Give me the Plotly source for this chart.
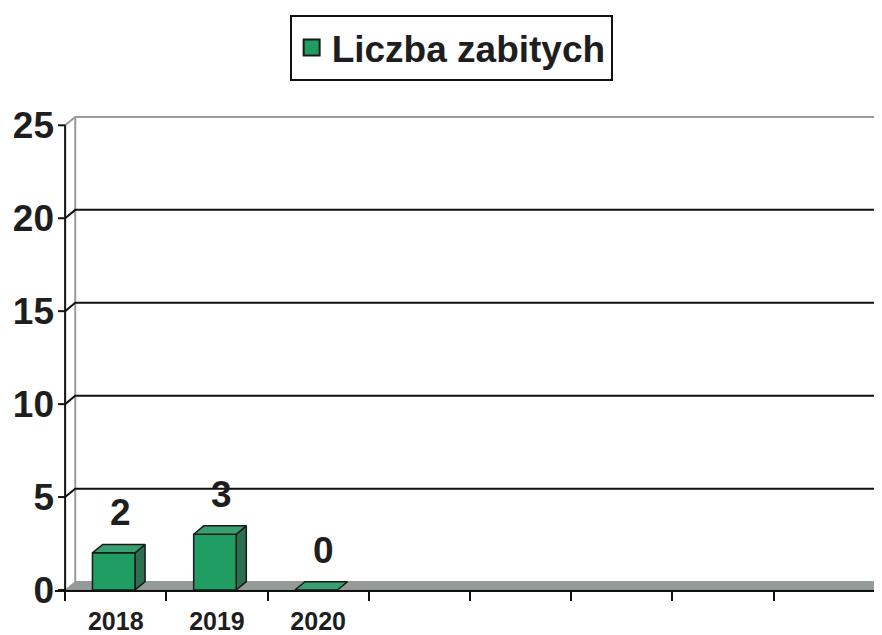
import plotly.graph_objects as go

# ---- data ----
years = ["2018", "2019", "2020"]
killed = [2, 3, 0]
slot_ids = ["s1", "s2", "s3", "s4", "s5", "s6", "s7", "s8"]
slot_labels = years + ["", "", "", "", ""]
y_ticks = [0, 5, 10, 15, 20, 25]
legend_name = "Liczba zabitych"

# ---- style / geometry ----
DX, DY = 0.1, 0.45          # 3D depth offset (category units, value units)
W = 0.42                    # bar front width
XMIN, XMAX = -0.6, 7.57
YMAX = 25.5
FRONT, TOP, SIDE = "#1f9d63", "#3a9f70", "#2b6e50"
EDGE = "#1a1a1a"
FONT = "Arial, Liberation Sans, sans-serif"
TXT = "#1e1e1e"

fig = go.Figure()

# hidden trace that defines the category slots on the labelled axis
fig.add_trace(go.Scatter(x=slot_ids, y=[0] * len(slot_ids), mode="markers",
                         marker=dict(opacity=0), hoverinfo="skip",
                         showlegend=False, xaxis="x", yaxis="y"))

def poly(xs, ys, fill, line_color, lw=1.5):
    fig.add_trace(go.Scatter(x=xs + [xs[0]], y=ys + [ys[0]], mode="lines",
                             fill="toself", fillcolor=fill,
                             line=dict(color=line_color, width=lw),
                             hoverinfo="skip", showlegend=False,
                             xaxis="x2", yaxis="y"))

def lines(xs, ys, color, width):
    fig.add_trace(go.Scatter(x=xs, y=ys, mode="lines",
                             line=dict(color=color, width=width),
                             hoverinfo="skip", showlegend=False,
                             xaxis="x2", yaxis="y"))

left = -0.5
far = XMAX + 1

# floor
poly([left, far, far, left + DX], [0, 0, DY, DY], "#959c98", "#8a8f8c", 1)

# back wall left edge and top edge
top_v = y_ticks[-1]
lines([left + DX, left + DX], [DY, top_v + DY], "#9a9a9a", 2)
lines([left, left + DX, far], [top_v, top_v + DY, top_v + DY], "#9a9a9a", 2)

# gridlines on back wall
gx, gy = [], []
for v in y_ticks[1:-1]:
    gx += [left, left + DX, far, None]
    gy += [v, v + DY, v + DY, None]
lines(gx, gy, "#111111", 2)

# y axis line with ticks
lines([left, left], [0, top_v], "#111111", 2)
tx, ty = [], []
for v in y_ticks:
    tx += [left - 0.07, left, None]
    ty += [v, v, None]
lines(tx, ty, "#111111", 2)

# 3D bars
for i, v in enumerate(killed):
    c = i - 0.02
    x0, x1 = c - W / 2, c + W / 2
    if v > 0:
        poly([x1, x1 + DX, x1 + DX, x1], [0, DY, v + DY, v], SIDE, EDGE)
        poly([x0, x1, x1, x0], [0, 0, v, v], FRONT, EDGE)
    poly([x0, x0 + DX, x1 + DX, x1], [v, v + DY, v + DY, v], TOP, EDGE)

# legend entry
fig.add_trace(go.Scatter(x=[None], y=[None], mode="markers", name=legend_name,
                         marker=dict(symbol="square", size=16, color=FRONT,
                                     line=dict(color=EDGE, width=2)),
                         xaxis="x2", yaxis="y"))

# value labels
for i, v in enumerate(killed):
    fig.add_annotation(x=i, y=v, xref="x2", yref="y", text=str(v),
                       showarrow=False, yanchor="middle", yshift=40, xshift=5,
                       font=dict(family=FONT, size=37, color=TXT, weight="bold"))

fig.update_layout(
    width=882, height=635,
    margin=dict(l=47, r=8, t=108, b=53, autoexpand=False),
    paper_bgcolor="white", plot_bgcolor="white",
    font=dict(family=FONT, color=TXT),
    showlegend=True,
    legend=dict(x=0.479, y=1.213, xanchor="center", yanchor="top",
                bgcolor="white", bordercolor="#111111", borderwidth=2,
                font=dict(family=FONT, size=37, color=TXT, weight="bold")),
    xaxis=dict(type="category", categoryorder="array", categoryarray=slot_ids,
               tickmode="array", tickvals=slot_ids, ticktext=slot_labels,
               range=[XMIN, XMAX], tickson="boundaries", ticks="outside",
               ticklen=9, tickwidth=2, tickcolor="#111111",
               ticklabelstandoff=8,
               showline=True, linecolor="#111111", linewidth=2,
               showgrid=False, zeroline=False, automargin=False,
               tickfont=dict(family=FONT, size=25, color=TXT, weight="bold")),
    xaxis2=dict(overlaying="x", range=[XMIN, XMAX], visible=False,
                showgrid=False, zeroline=False),
    yaxis=dict(range=[0, YMAX], tickmode="array", tickvals=y_ticks,
               ticks="", showline=False, showgrid=False, zeroline=False,
               automargin=False,
               tickfont=dict(family=FONT, size=37, color=TXT, weight="bold")),
)

fig.write_html("out.html")
